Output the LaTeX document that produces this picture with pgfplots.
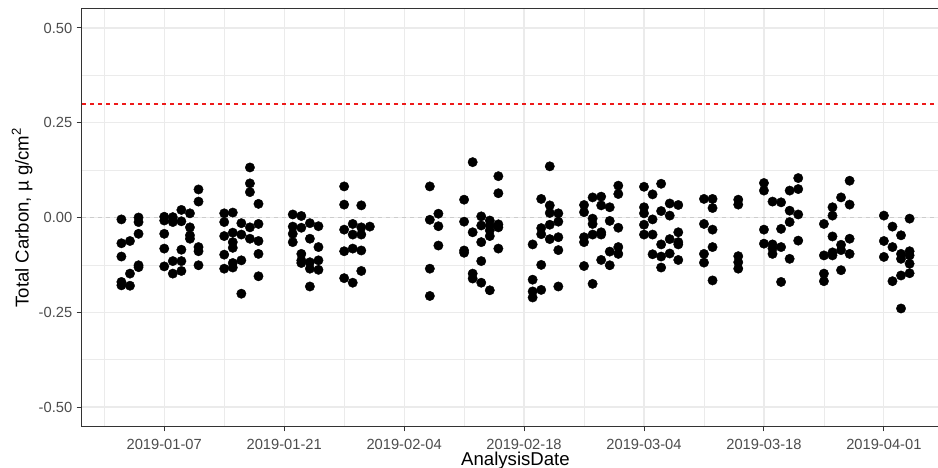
\documentclass[border=0pt]{standalone}
\usepackage{fontspec}
\setmainfont{Liberation Sans}
\usepackage{xcolor}
\usepackage{pgfplots}
\pgfplotsset{compat=1.18}
\usepackage{pgfplotstable}

\definecolor{grid92}{gray}{0.92}
\definecolor{gray20}{gray}{0.20}
\definecolor{gray30}{gray}{0.30}
\definecolor{zeroline}{gray}{0.80}
\definecolor{limitred}{rgb}{0.93,0.1,0.1}

% day of 2019 (Jan 1 = 1) vs total carbon
\pgfplotstableread{
day tc
2 -0.005
2 -0.068
2 -0.103
2 -0.170
2 -0.179
3 -0.062
3 -0.148
3 -0.180
4 0.000
4 -0.012
4 -0.043
4 -0.126
4 -0.131
7 0.002
7 -0.008
7 -0.043
7 -0.082
7 -0.129
8 0.001
8 -0.012
8 -0.115
8 -0.148
9 0.020
9 -0.010
9 -0.085
9 -0.115
9 -0.141
10 0.011
10 -0.026
10 -0.047
10 -0.056
11 0.074
11 0.042
11 -0.078
11 -0.089
11 -0.126
14 0.011
14 -0.012
14 -0.049
14 -0.098
14 -0.135
15 0.013
15 -0.040
15 -0.065
15 -0.080
15 -0.120
15 -0.132
16 -0.015
16 -0.045
16 -0.113
16 -0.201
17 0.132
17 0.090
17 0.067
17 -0.026
17 -0.056
18 0.036
18 -0.017
18 -0.062
18 -0.096
18 -0.155
22 0.008
22 -0.024
22 -0.043
22 -0.065
23 0.004
23 -0.027
23 -0.096
23 -0.113
23 -0.120
24 -0.015
24 -0.056
24 -0.118
24 -0.135
24 -0.182
25 -0.023
25 -0.078
25 -0.113
25 -0.138
28 0.082
28 0.034
28 -0.032
28 -0.089
28 -0.160
29 -0.017
29 -0.045
29 -0.082
29 -0.172
30 0.032
30 -0.026
30 -0.045
30 -0.087
30 -0.141
31 -0.024
38 0.082
38 -0.006
38 -0.135
38 -0.207
39 0.010
39 -0.023
39 -0.074
42 0.047
42 -0.011
42 -0.087
42 -0.093
43 0.146
43 -0.039
43 -0.148
43 -0.161
44 0.003
44 -0.021
44 -0.065
44 -0.115
44 -0.172
45 -0.008
45 -0.021
45 -0.034
45 -0.049
45 -0.192
46 0.109
46 0.064
46 -0.018
46 -0.026
46 -0.082
50 -0.071
50 -0.164
50 -0.195
50 -0.211
51 0.049
51 -0.028
51 -0.044
51 -0.125
51 -0.191
52 0.135
52 0.032
52 0.012
52 -0.019
52 -0.057
53 0.011
53 -0.011
53 -0.052
53 -0.086
53 -0.182
56 0.033
56 0.014
56 -0.052
56 -0.065
56 -0.128
57 0.053
57 -0.003
57 -0.017
57 -0.045
57 -0.175
58 0.055
58 0.032
58 -0.039
58 -0.045
58 -0.112
59 0.027
59 -0.009
59 -0.090
59 -0.126
60 0.084
60 0.062
60 -0.027
60 -0.078
60 -0.096
63 0.081
63 0.027
63 0.011
63 -0.019
63 -0.045
64 0.061
64 -0.005
64 -0.045
64 -0.097
65 0.089
65 0.017
65 -0.071
65 -0.103
65 -0.132
66 0.037
66 0.005
66 -0.057
66 -0.095
67 0.033
67 -0.039
67 -0.065
67 -0.071
67 -0.112
70 0.049
70 -0.017
70 -0.096
70 -0.119
71 0.049
71 0.025
71 -0.032
71 -0.078
71 -0.166
74 0.047
74 0.034
74 -0.102
74 -0.118
74 -0.135
77 0.091
77 0.071
77 -0.032
77 -0.069
78 0.042
78 -0.071
78 -0.082
78 -0.096
79 0.040
79 -0.030
79 -0.078
79 -0.170
80 0.071
80 0.018
80 -0.012
80 -0.109
81 0.104
81 0.075
81 0.008
81 -0.061
84 -0.017
84 -0.100
84 -0.148
84 -0.168
85 0.027
85 0.005
85 -0.050
85 -0.092
85 -0.100
86 0.053
86 -0.072
86 -0.086
86 -0.139
87 0.097
87 0.034
87 -0.056
87 -0.096
91 0.005
91 -0.062
91 -0.104
92 -0.024
92 -0.078
92 -0.168
93 -0.047
93 -0.096
93 -0.109
93 -0.153
93 -0.240
94 -0.003
94 -0.089
94 -0.100
94 -0.122
94 -0.147
}\tcdata

\begin{document}
\begin{tikzpicture}
\begin{axis}[
  scale only axis,
  width=433.5pt, height=208.5pt,
  xmin=-2.6, xmax=98.6,
  ymin=-0.55, ymax=0.55,
  axis line style={gray20, line width=0.5pt},
  tick style={gray20, line width=0.5pt},
  tick align=outside,
  major tick length=2.7pt,
  minor tick length=0pt,
  xtick={7,21,35,49,63,77,91},
  xticklabels={2019-01-07,2019-01-21,2019-02-04,2019-02-18,2019-03-04,2019-03-18,2019-04-01},
  minor xtick={0,14,28,42,56,70,84,98},
  ytick={-0.5,-0.25,0,0.25,0.5},
  yticklabels={-0.50,-0.25,0.00,0.25,0.50},
  minor ytick={-0.375,-0.125,0.125,0.375},
  xmajorgrids, ymajorgrids, xminorgrids, yminorgrids,
  major grid style={grid92, line width=0.6pt},
  minor grid style={grid92, line width=0.35pt},
  xtick pos=bottom, ytick pos=left,
  ticklabel style={font=\fontsize{7.35}{8}\selectfont, text=gray30, inner sep=0pt},
  xticklabel style={anchor=base, yshift=-9pt},
  yticklabel style={anchor=base east, xshift=-2pt, yshift=-2.6pt},
  xlabel={AnalysisDate},
  ylabel={Total Carbon, µ g/cm\textsuperscript{2}},
  label style={font=\fontsize{9.3}{11}\selectfont, text=black, inner sep=0pt},
  xlabel style={at={(axis description cs:0.5,-0.094)}, anchor=base},
  ylabel style={at={(axis description cs:-0.069,0.5)}, anchor=center},
]
\addplot[color=zeroline, line width=0.7pt, dash pattern=on 2.2pt off 1.8pt] coordinates {(-2.6,0) (98.6,0)};
\addplot[color=limitred, line width=0.9pt, dash pattern=on 2.2pt off 1.8pt] coordinates {(-2.6,0.3) (98.6,0.3)};
\addplot[only marks, mark=*, mark size=2.35pt, mark options={fill=black, draw=black, line width=0.2pt}] table[x=day, y=tc] {\tcdata};
\end{axis}
\pgfresetboundingbox
\path[use as bounding box] (-41pt,-20.5pt) rectangle (428pt,213pt);
\end{tikzpicture}
\end{document}
